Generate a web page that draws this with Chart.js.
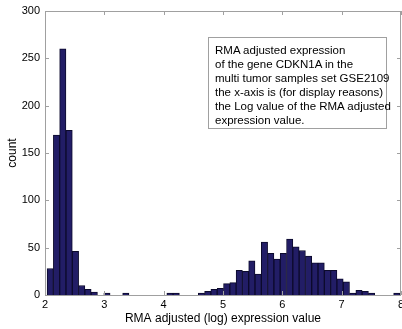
<!DOCTYPE html>
<html>
<head>
<meta charset="utf-8">
<script src="https://cdn.jsdelivr.net/npm/chart.js@4"></script>
<style>
  body { margin: 0; background: #fff; }
  #wrap { position: relative; width: 402px; height: 329px; }
  #note {
    position: absolute; left: 208px; top: 37px; width: 166px; height: 82px;
    padding: 5px 5px 3px 6px; border: 1px solid #a0a0a0; background: #fff;
    font: 11.5px "Liberation Sans", Arial, sans-serif; line-height: 14px; color: #000;
    white-space: nowrap;
  }
</style>
</head>
<body>
<div id="wrap">
  <canvas id="chart" width="402" height="329"></canvas>
  <div id="note">RMA adjusted expression<br>of the gene CDKN1A in the<br>multi tumor samples set GSE2109<br>the x-axis is (for display reasons)<br>the Log value of the RMA adjusted<br>expression value.</div>
</div>
<script>
// histogram bin centres (log RMA value)
const binCenters = [
  2.088, 2.194, 2.300, 2.407, 2.513, 2.619, 2.725, 2.831, 2.938, 3.044,
  3.150, 3.256, 3.362, 3.469, 3.575, 3.681, 3.787, 3.893, 4.000, 4.106,
  4.212, 4.318, 4.424, 4.531, 4.637, 4.743, 4.849, 4.955, 5.062, 5.168,
  5.274, 5.380, 5.486, 5.593, 5.699, 5.805, 5.911, 6.017, 6.124, 6.230,
  6.336, 6.442, 6.548, 6.655, 6.761, 6.867, 6.973, 7.079, 7.186, 7.292,
  7.398, 7.504, 7.610, 7.717, 7.823, 7.929
];
// counts per bin
const counts = [
  28, 169, 260, 174, 46, 10, 6, 3, 0, 2,
  0, 0, 2, 0, 0, 0, 0, 0, 0, 2,
  2, 0, 0, 0, 2, 4, 6, 7, 12, 13,
  26, 25, 36, 22, 56, 44, 38, 44, 59, 51,
  47, 41, 34, 34, 26, 26, 17, 14, 2, 5,
  4, 2, 0, 0, 0, 2
];
const xTicks = [2, 3, 4, 5, 6, 7, 8];
const yTicks = [0, 50, 100, 150, 200, 250, 300];

const FRAME = '#a0a0a0';

// MATLAB style box with inward ticks on all four sides
const boxFrame = {
  id: 'boxFrame',
  afterDatasetsDraw(chart) {
    const { ctx, chartArea: { left, right, top, bottom } } = chart;
    const xs = chart.scales.x, ys = chart.scales.y;
    ctx.save();
    ctx.strokeStyle = FRAME;
    ctx.lineWidth = 1;
    ctx.beginPath();
    xTicks.forEach((v) => {
      const px = Math.round(xs.getPixelForValue(v)) + 0.5;
      ctx.moveTo(px, bottom); ctx.lineTo(px, bottom - 4);
      ctx.moveTo(px, top); ctx.lineTo(px, top + 4);
    });
    yTicks.forEach((v) => {
      const py = Math.round(ys.getPixelForValue(v)) + 0.5;
      ctx.moveTo(left, py); ctx.lineTo(left + 4, py);
      ctx.moveTo(right, py); ctx.lineTo(right - 4, py);
    });
    ctx.stroke();
    ctx.strokeRect(Math.round(left) + 0.5, Math.round(top) + 0.5,
      Math.round(right - left) - 1, Math.round(bottom - top));
    ctx.restore();
  },
};

const font = { family: '"Liberation Sans", Arial, sans-serif', size: 11 };

new Chart(document.getElementById('chart'), {
  type: 'bar',
  data: {
    datasets: [{
      data: binCenters.map((x, i) => ({ x: x, y: counts[i] || null })),
      backgroundColor: '#221d66',
      borderColor: '#0c0a2c',
      borderWidth: 1,
      barPercentage: 1,
      categoryPercentage: 1,
    }],
  },
  options: {
    responsive: false,
    animation: false,
    layout: { padding: { top: 11, right: 1, left: 0, bottom: 0 } },
    plugins: { legend: { display: false }, tooltip: { enabled: false } },
    scales: {
      x: {
        type: 'linear',
        min: 2, max: 8,
        offset: false,
        grid: { display: false, drawTicks: false },
        border: { display: false },
        afterBuildTicks: (s) => { s.ticks = xTicks.map((v) => ({ value: v })); },
        ticks: { color: '#000', font: font, padding: 3, maxRotation: 0 },
        title: { display: true, text: 'RMA adjusted (log) expression value', color: '#000',
          font: { family: font.family, size: 12 }, padding: { top: 0, bottom: 3 } },
        afterFit: (s) => { s.height = 34; s.paddingLeft = 0; s.paddingRight = 0; },
      },
      y: {
        min: 0, max: 300,
        grid: { display: false, drawTicks: false },
        border: { display: false },
        afterBuildTicks: (s) => { s.ticks = yTicks.map((v) => ({ value: v })); },
        ticks: { color: '#000', font: font, padding: 5 },
        title: { display: true, text: 'count', color: '#000',
          font: { family: font.family, size: 12 }, padding: { top: 5, bottom: 0 } },
        afterFit: (s) => { s.width = 45; s.paddingTop = 0; s.paddingBottom = 0; },
      },
    },
  },
  plugins: [boxFrame],
});
</script>
</body>
</html>
